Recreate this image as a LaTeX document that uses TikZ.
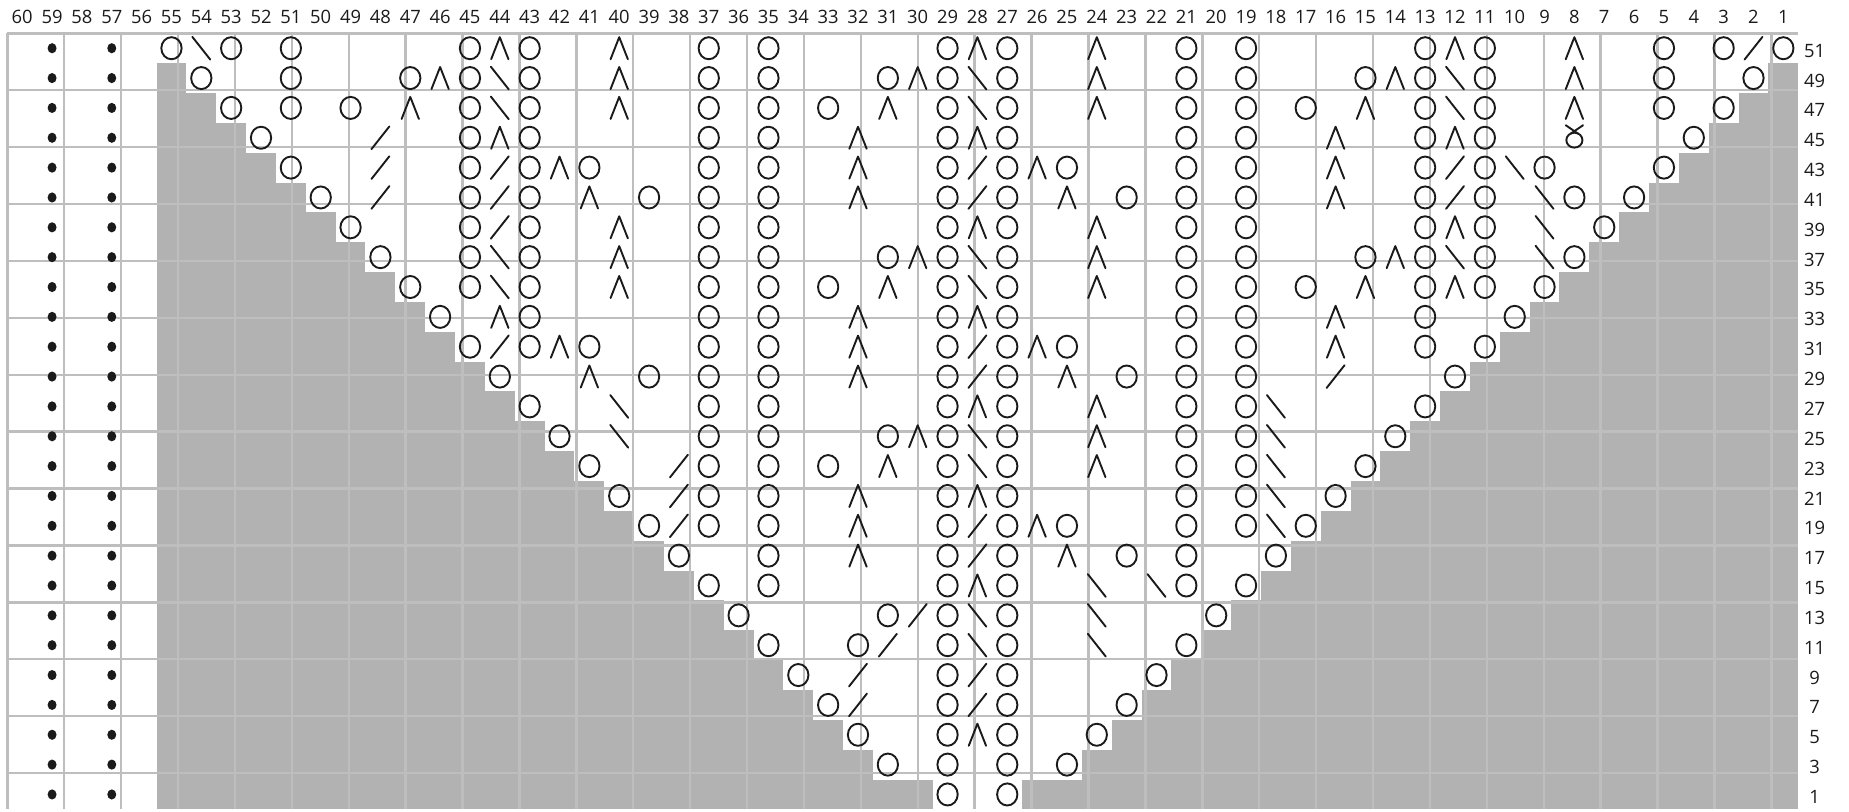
\documentclass[tikz,border=0pt]{standalone}
\usepackage{fontspec}
\setmainfont{Open Sans}
\definecolor{greyfill}{HTML}{B2B2B2}
\definecolor{gline}{HTML}{BEBEBE}
\definecolor{ink}{HTML}{1A1A1A}
\tikzset{
  sym/.style={line width=0.95pt, draw=ink, line cap=round, line join=round},
  lab/.style={inner sep=0pt, text=ink, font=\fontsize{9.2}{11}\selectfont},
}
\newcommand\symyo{\draw[sym] (0,0) ellipse [x radius=0.34, y radius=0.37];}
\newcommand\symbs{\draw[sym] (-0.3,0.38) -- (0.3,-0.38);}
\newcommand\symfs{\draw[sym] (-0.3,-0.38) -- (0.3,0.38);}
\newcommand\symca{\draw[sym] (-0.29,-0.37) -- (0,0.37) -- (0.29,-0.37);}
\newcommand\symtw{\draw[sym] (0,-0.08) ellipse [x radius=0.27, y radius=0.25];
  \draw[sym] (-0.29,0.42) .. controls (-0.1,0.3) .. (0.12,0.14);
  \draw[sym] (0.29,0.42) .. controls (0.1,0.3) .. (-0.12,0.14);}
\newcommand\chartrow[2]{\foreach \n/\s in {#2} {%
  \begin{scope}[shift={({60.5-\n},{-(51-#1)/2-0.5})}]\csname sym\s\endcsname\end{scope}}}
\begin{document}
\begin{tikzpicture}[x=14.925pt,y=14.925pt]
\useasboundingbox (-0.2446,1.1156) rectangle (61.700,-26.087);
% grey cells outside the chart
\foreach \k in {1,...,24} {
  \fill[greyfill] (5,-\k) rectangle ({5+\k},{-\k-1});
  \fill[greyfill] ({60-\k},-\k) rectangle (60,{-\k-1});
}
\fill[greyfill] (5,-25) rectangle (31,-26);
\fill[greyfill] (34,-25) rectangle (60,-26);
% grid
\draw[draw=gline, line width=1.2pt] (0,0) grid (60,-26);
% column labels
\foreach \n in {1,...,60} \node[lab] (c\n) at ({60.5-\n},0.556) {\n};
% row labels
\foreach \r in {1,3,...,51} \node[lab] (r\r) at (60.55,{-(51-\r)/2-0.58}) {\r};
% purl dots
\foreach \k in {0,...,25} {
  \fill[ink] (1.5,{-\k-0.5}) ellipse [x radius=0.15, y radius=0.17];
  \fill[ink] (3.5,{-\k-0.5}) ellipse [x radius=0.15, y radius=0.17];
}
% chart symbols
\chartrow{51}{55/yo,54/bs,53/yo,51/yo,45/yo,44/ca,43/yo,40/ca,37/yo,35/yo,29/yo,28/ca,27/yo,24/ca,21/yo,19/yo,13/yo,12/ca,11/yo,8/ca,5/yo,3/yo,2/fs,1/yo}
\chartrow{49}{54/yo,51/yo,47/yo,46/ca,45/yo,44/bs,43/yo,40/ca,37/yo,35/yo,31/yo,30/ca,29/yo,28/bs,27/yo,24/ca,21/yo,19/yo,15/yo,14/ca,13/yo,12/bs,11/yo,8/ca,5/yo,2/yo}
\chartrow{47}{53/yo,51/yo,49/yo,47/ca,45/yo,44/bs,43/yo,40/ca,37/yo,35/yo,33/yo,31/ca,29/yo,28/bs,27/yo,24/ca,21/yo,19/yo,17/yo,15/ca,13/yo,12/bs,11/yo,8/ca,5/yo,3/yo}
\chartrow{45}{52/yo,48/fs,45/yo,44/ca,43/yo,37/yo,35/yo,32/ca,29/yo,28/ca,27/yo,21/yo,19/yo,16/ca,13/yo,12/ca,11/yo,8/tw,4/yo}
\chartrow{43}{51/yo,48/fs,45/yo,44/fs,43/yo,42/ca,41/yo,37/yo,35/yo,32/ca,29/yo,28/fs,27/yo,26/ca,25/yo,21/yo,19/yo,16/ca,13/yo,12/fs,11/yo,10/bs,9/yo,5/yo}
\chartrow{41}{50/yo,48/fs,45/yo,44/fs,43/yo,41/ca,39/yo,37/yo,35/yo,32/ca,29/yo,28/fs,27/yo,25/ca,23/yo,21/yo,19/yo,16/ca,13/yo,12/fs,11/yo,9/bs,8/yo,6/yo}
\chartrow{39}{49/yo,45/yo,44/fs,43/yo,40/ca,37/yo,35/yo,29/yo,28/ca,27/yo,24/ca,21/yo,19/yo,13/yo,12/ca,11/yo,9/bs,7/yo}
\chartrow{37}{48/yo,45/yo,44/bs,43/yo,40/ca,37/yo,35/yo,31/yo,30/ca,29/yo,28/bs,27/yo,24/ca,21/yo,19/yo,15/yo,14/ca,13/yo,12/bs,11/yo,9/bs,8/yo}
\chartrow{35}{47/yo,45/yo,44/bs,43/yo,40/ca,37/yo,35/yo,33/yo,31/ca,29/yo,28/bs,27/yo,24/ca,21/yo,19/yo,17/yo,15/ca,13/yo,12/ca,11/yo,9/yo}
\chartrow{33}{46/yo,44/ca,43/yo,37/yo,35/yo,32/ca,29/yo,28/ca,27/yo,21/yo,19/yo,16/ca,13/yo,10/yo}
\chartrow{31}{45/yo,44/fs,43/yo,42/ca,41/yo,37/yo,35/yo,32/ca,29/yo,28/fs,27/yo,26/ca,25/yo,21/yo,19/yo,16/ca,13/yo,11/yo}
\chartrow{29}{44/yo,41/ca,39/yo,37/yo,35/yo,32/ca,29/yo,28/fs,27/yo,25/ca,23/yo,21/yo,19/yo,16/fs,12/yo}
\chartrow{27}{43/yo,40/bs,37/yo,35/yo,29/yo,28/ca,27/yo,24/ca,21/yo,19/yo,18/bs,13/yo}
\chartrow{25}{42/yo,40/bs,37/yo,35/yo,31/yo,30/ca,29/yo,28/bs,27/yo,24/ca,21/yo,19/yo,18/bs,14/yo}
\chartrow{23}{41/yo,38/fs,37/yo,35/yo,33/yo,31/ca,29/yo,28/bs,27/yo,24/ca,21/yo,19/yo,18/bs,15/yo}
\chartrow{21}{40/yo,38/fs,37/yo,35/yo,32/ca,29/yo,28/ca,27/yo,21/yo,19/yo,18/bs,16/yo}
\chartrow{19}{39/yo,38/fs,37/yo,35/yo,32/ca,29/yo,28/fs,27/yo,26/ca,25/yo,21/yo,19/yo,18/bs,17/yo}
\chartrow{17}{38/yo,35/yo,32/ca,29/yo,28/fs,27/yo,25/ca,23/yo,21/yo,18/yo}
\chartrow{15}{37/yo,35/yo,29/yo,28/ca,27/yo,24/bs,22/bs,21/yo,19/yo}
\chartrow{13}{36/yo,31/yo,30/fs,29/yo,28/bs,27/yo,24/bs,20/yo}
\chartrow{11}{35/yo,32/yo,31/fs,29/yo,28/bs,27/yo,24/bs,21/yo}
\chartrow{9}{34/yo,32/fs,29/yo,28/fs,27/yo,22/yo}
\chartrow{7}{33/yo,32/fs,29/yo,28/fs,27/yo,23/yo}
\chartrow{5}{32/yo,29/yo,28/ca,27/yo,24/yo}
\chartrow{3}{31/yo,29/yo,27/yo,25/yo}
\chartrow{1}{29/yo,27/yo}
\end{tikzpicture}
\end{document}
